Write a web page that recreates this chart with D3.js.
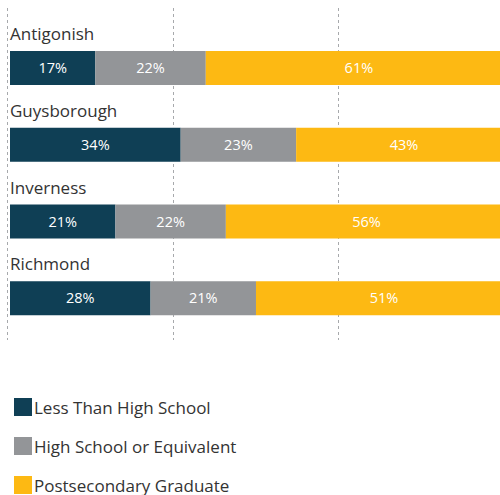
<!DOCTYPE html>
<html>
<head>
<meta charset="utf-8">
<script src="https://cdn.jsdelivr.net/npm/d3@7"></script>
<style>
  html, body { margin: 0; padding: 0; background: #fff; }
  svg { display: block; font-family: "Open Sans", "Noto Sans", sans-serif; }
</style>
</head>
<body>
<div id="chart"></div>
<script>
// Educational attainment by county (share of population, %)
const counties = ["Antigonish", "Guysborough", "Inverness", "Richmond"];
const seriesNames = ["Less Than High School", "High School or Equivalent", "Postsecondary Graduate"];
const lessThanHS = [17, 34, 21, 28];
const highSchool = [22, 23, 22, 21];
const postsecondary = [61, 43, 56, 51];
const gridTicks = [0, 33, 66, 99];
const colors = ["#0f3f55", "#939598", "#fdb913"];

const width = 500, height = 495;
const svg = d3.select("#chart").append("svg")
  .attr("width", width).attr("height", height);

const x = d3.scaleLinear().domain([0, 100]).range([10, 512]);
const y = d3.scaleBand().domain(counties).range([28, 335]).paddingInner(0).paddingOuter(0);

// dashed vertical gridlines
svg.append("g").selectAll("line").data(gridTicks).join("line")
  .attr("x1", d => Math.round(x(d)) - 2.5)
  .attr("x2", d => Math.round(x(d)) - 2.5)
  .attr("y1", 8).attr("y2", 340)
  .attr("stroke", "#a7a9ac").attr("stroke-width", 1)
  .attr("stroke-dasharray", "3,3");

const rows = counties.map((c, i) => ({
  county: c,
  values: [lessThanHS[i], highSchool[i], postsecondary[i]]
}));

const barH = 34;
const row = svg.append("g").selectAll("g").data(rows).join("g")
  .attr("transform", d => `translate(0,${y(d.county)})`);

row.append("text")
  .attr("x", 10).attr("y", 12)
  .attr("font-size", 17).attr("fill", "#333")
  .text(d => d.county);

row.each(function(d) {
  const g = d3.select(this);
  let acc = 0;
  const segs = d.values.map((v, k) => {
    const s = { start: acc, end: acc + v, v, k };
    acc += v;
    return s;
  });
  g.selectAll("rect").data(segs).join("rect")
    .attr("x", s => x(s.start))
    .attr("width", s => x(s.end) - x(s.start))
    .attr("y", 23).attr("height", barH)
    .attr("fill", s => colors[s.k]);
  g.selectAll("text.val").data(segs).join("text")
    .attr("class", "val")
    .attr("x", s => (x(s.start) + x(s.end)) / 2)
    .attr("y", 23 + barH / 2)
    .attr("dy", "0.35em")
    .attr("text-anchor", "middle")
    .attr("font-size", 14.5).attr("fill", "#fff")
    .text(s => s.v + "%");
});

// legend
const legend = svg.append("g").selectAll("g").data(seriesNames).join("g")
  .attr("transform", (d, i) => `translate(14,${398 + i * 39})`);
legend.append("rect").attr("width", 18).attr("height", 18)
  .attr("fill", (d, i) => colors[i]);
legend.append("text").attr("x", 20).attr("y", 16)
  .attr("font-size", 17).attr("fill", "#333")
  .text(d => d);
</script>
</body>
</html>
